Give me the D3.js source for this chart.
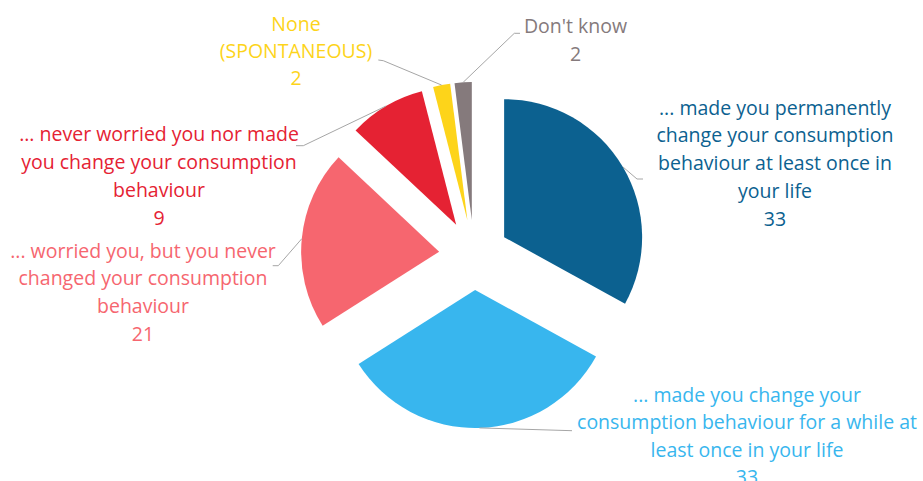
<!DOCTYPE html>
<html>
<head>
<meta charset="utf-8">
<script src="https://cdn.jsdelivr.net/npm/d3@7"></script>
<style>
  body { margin: 0; background: #fff; }
  text { font-family: "Open Sans", "Noto Sans", sans-serif; }
</style>
</head>
<body>
<div id="chart"></div>
<script>
// Chart data
var categories = [
  "... made you permanently change your consumption behaviour at least once in your life",
  "... made you change your consumption behaviour for a while at least once in your life",
  "... worried you, but you never changed your consumption behaviour",
  "... never worried you nor made you change your consumption behaviour",
  "None (SPONTANEOUS)",
  "Don't know"
];
var values = [33, 33, 21, 9, 2, 2];
var colors = ["#0c6190", "#38b6ee", "#f6666f", "#e52233", "#fdd41a", "#857a7c"];

// label text as wrapped in the picture
var labelLines = [
  ["... made you permanently", "change your consumption", "behaviour at least once in", "your life"],
  ["... made you change your", "consumption behaviour for a while at", "least once in your life"],
  ["... worried you, but you never", "changed your consumption", "behaviour"],
  ["... never worried you nor made", "you change your consumption", "behaviour"],
  ["None", "(SPONTANEOUS)"],
  ["Don't know"]
];

// label placement: text centre x, first line y, line step, leader elbow and end
var labelLayout = [
  { x: 775, y: 107, step: 27.9, elbow: [637, 179], end: [643, 179] },
  { x: 747, y: 394, step: 27.5, elbow: [572, 430.7], end: [572, 430.7] },
  { x: 143, y: 250, step: 27.8, elbow: [278.3, 265.7], end: [272.7, 265.7] },
  { x: 159, y: 133.5, step: 28, elbow: [303.3, 145.7], end: [296, 145.7] },
  { x: 296, y: 23.5, step: 27, elbow: [383.3, 60.7], end: [378.3, 60] },
  { x: 575.5, y: 25, step: 28.3, elbow: [514.3, 33.3], end: [520, 33.3] }
];

var svgWidth = 923;
var svgHeight = 481;
var center = { x: 474, y: 255 };
var radius = 138;
var explode = 35;

var svg = d3.select("#chart")
  .append("svg")
  .attr("width", svgWidth)
  .attr("height", svgHeight);

var pie = d3.pie().sort(null).value(d => d);
var arcs = pie(values);

var arc = d3.arc().innerRadius(0).outerRadius(radius);

// offset of each exploded slice
function shift(d) {
  var mid = (d.startAngle + d.endAngle) / 2;
  return [Math.sin(mid) * explode, -Math.cos(mid) * explode];
}

var chartGroup = svg.append("g")
  .attr("transform", `translate(${center.x}, ${center.y})`);

chartGroup.selectAll("path.slice")
  .data(arcs)
  .enter()
  .append("path")
  .attr("class", "slice")
  .attr("d", arc)
  .attr("fill", (d, i) => colors[i])
  .attr("transform", d => `translate(${shift(d)[0]}, ${shift(d)[1]})`);

// leader lines
svg.selectAll("polyline.leader")
  .data(arcs)
  .enter()
  .append("polyline")
  .attr("class", "leader")
  .attr("fill", "none")
  .attr("stroke", "#a6a6a6")
  .attr("stroke-width", 1)
  .attr("points", function(d, i) {
    var mid = (d.startAngle + d.endAngle) / 2;
    var s = shift(d);
    var p0 = [center.x + s[0] + Math.sin(mid) * radius, center.y + s[1] - Math.cos(mid) * radius];
    var L = labelLayout[i];
    return [p0, L.elbow, L.end].map(p => p.join(",")).join(" ");
  });

// labels
var labels = svg.selectAll("text.label")
  .data(arcs)
  .enter()
  .append("text")
  .attr("class", "label")
  .attr("text-anchor", "middle")
  .attr("font-size", "19.5px")
  .attr("fill", (d, i) => colors[i]);

labels.each(function(d, i) {
  var L = labelLayout[i];
  var lines = labelLines[i].concat([String(values[i])]);
  var t = d3.select(this);
  lines.forEach(function(line, j) {
    t.append("tspan")
      .attr("x", L.x)
      .attr("y", L.y + j * L.step)
      .attr("dominant-baseline", "central")
      .text(line);
  });
});
</script>
</body>
</html>
